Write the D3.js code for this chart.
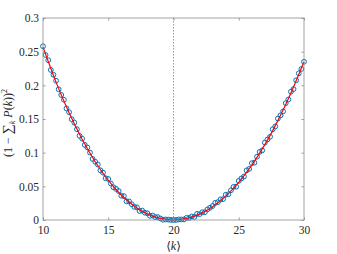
<!DOCTYPE html>
<html>
<head>
<meta charset="utf-8">
<script src="https://cdn.jsdelivr.net/npm/d3@7"></script>
<style>
  html, body { margin: 0; padding: 0; background: #fff; }
  svg { display: block; }
  text { font-family: "Liberation Serif", "DejaVu Serif", serif; fill: #262626; }
</style>
</head>
<body>
<script>
// ---- data ----
const kValues = [10,10.2,10.4,10.6,10.8,11,11.2,11.4,11.6,11.8,12,12.2,12.4,12.6,12.8,13,13.2,13.4,13.6,13.8,
  14,14.2,14.4,14.6,14.8,15,15.2,15.4,15.6,15.8,16,16.2,16.4,16.6,16.8,17,17.2,17.4,17.6,17.8,
  18,18.2,18.4,18.6,18.8,19,19.2,19.4,19.6,19.8,20,20.2,20.4,20.6,20.8,21,21.2,21.4,21.6,21.8,
  22,22.2,22.4,22.6,22.8,23,23.2,23.4,23.6,23.8,24,24.2,24.4,24.6,24.8,25,25.2,25.4,25.6,25.8,
  26,26.2,26.4,26.6,26.8,27,27.2,27.4,27.6,27.8,28,28.2,28.4,28.6,28.8,29,29.2,29.4,29.6,29.8,30];
const simValues = [0.2580,0.2450,0.2373,0.2229,0.2157,0.2068,0.1941,0.1857,0.1786,0.1657,
  0.1601,0.1497,0.1446,0.1348,0.1251,0.1208,0.1116,0.1077,0.1001,0.0907,
  0.0865,0.0825,0.0738,0.0703,0.0620,0.0610,0.0542,0.0486,0.0462,0.0430,
  0.0361,0.0354,0.0278,0.0275,0.0234,0.0195,0.0188,0.0133,0.0140,0.0109,
  0.0099,0.0062,0.0067,0.0043,0.0042,0.0022,0.0004,0.0008,0.0006,0.0001,
  0.0000,0.0001,0.0008,0.0008,0.0009,0.0032,0.0031,0.0052,0.0045,0.0090,
  0.0087,0.0115,0.0116,0.0158,0.0182,0.0208,0.0255,0.0265,0.0306,0.0310,
  0.0375,0.0382,0.0441,0.0492,0.0495,0.0580,0.0617,0.0646,0.0737,0.0759,
  0.0844,0.0851,0.0940,0.1011,0.1034,0.1149,0.1196,0.1236,0.1347,0.1390,
  0.1506,0.1554,0.1613,0.1735,0.1789,0.1906,0.1944,0.2075,0.2178,0.2243,0.2350];
const theoryK = [10,11,12,13,14,15,16,17,18,19,20,21,22,23,24,25,26,27,28,29,30];
const theoryValues = [0.2570,0.2048,0.1591,0.1198,0.0865,0.0590,0.0371,0.0205,0.0089,0.0022,0.0000,
  0.0022,0.0087,0.0198,0.0355,0.0560,0.0814,0.1119,0.1476,0.1886,0.2350];
const xTicks = [10,15,20,25,30];
const yTicks = [0,0.05,0.1,0.15,0.2,0.25,0.3];
const yTickLabels = ["0","0.05","0.1","0.15","0.2","0.25","0.3"];
const markerK = 20;

// ---- layout ----
const W = 337, H = 254;
const L = 43, R = 304, T = 18, B = 220;
const axisColor = "#8c8c8c";

const svg = d3.select("body").append("svg").attr("width", W).attr("height", H);
const x = d3.scaleLinear().domain([10, 30]).range([L, R]);
const y = d3.scaleLinear().domain([0, 0.3]).range([B, T]);

// dashed vertical line
svg.append("line")
  .attr("x1", x(markerK)).attr("x2", x(markerK))
  .attr("y1", T).attr("y2", B)
  .attr("stroke", "#555").attr("stroke-width", 0.6)
  .attr("stroke-dasharray", "1.5,1.5");

// circles
const pts = kValues.map((k, i) => [k, simValues[i]]);
svg.append("g").selectAll("circle").data(pts).join("circle")
  .attr("cx", d => x(d[0])).attr("cy", d => y(d[1]))
  .attr("r", 2.4)
  .attr("fill", "none").attr("stroke", "#0072BD").attr("stroke-width", 1);

// theory line
const line = d3.line().x(d => x(d[0])).y(d => y(d[1])).curve(d3.curveNatural);
svg.append("path")
  .datum(theoryK.map((k, i) => [k, theoryValues[i]]))
  .attr("d", line)
  .attr("fill", "none").attr("stroke", "#ff0000").attr("stroke-width", 1.2);

// box
svg.append("rect").attr("x", L).attr("y", T).attr("width", R - L).attr("height", B - T)
  .attr("fill", "none").attr("stroke", axisColor).attr("stroke-width", 0.8);

const tl = 2.6;
// axes with inward ticks
const xAxisB = d3.axisBottom(x).tickValues(xTicks).tickSizeInner(-tl).tickSizeOuter(0).tickPadding(6).tickFormat(d3.format("d"));
const gxb = svg.append("g").attr("transform", `translate(0,${B})`).call(xAxisB);
const xAxisT = d3.axisTop(x).tickValues(xTicks).tickSizeInner(-tl).tickSizeOuter(0).tickFormat("");
const gxt = svg.append("g").attr("transform", `translate(0,${T})`).call(xAxisT);
const yAxisL = d3.axisLeft(y).tickValues(yTicks).tickSizeInner(-tl).tickSizeOuter(0).tickPadding(4)
  .tickFormat((d, i) => yTickLabels[i]);
const gyl = svg.append("g").attr("transform", `translate(${L},0)`).call(yAxisL);
const yAxisR = d3.axisRight(y).tickValues(yTicks).tickSizeInner(-tl).tickSizeOuter(0).tickFormat("");
const gyr = svg.append("g").attr("transform", `translate(${R},0)`).call(yAxisR);

[gxb, gxt, gyl, gyr].forEach(g => {
  g.select(".domain").remove();
  g.selectAll(".tick line").attr("stroke", axisColor).attr("stroke-width", 0.8);
  g.selectAll(".tick text").attr("font-family", "'Liberation Serif', 'DejaVu Serif', serif")
    .attr("font-size", 11.5).attr("fill", "#262626");
});

// x label
const xl = svg.append("text").attr("x", x(20)).attr("y", 250)
  .attr("text-anchor", "middle").attr("font-size", 12);
xl.append("tspan").text("\u27E8");
xl.append("tspan").attr("font-style", "italic").text("k");
xl.append("tspan").text("\u27E9");

// y label
const yl = svg.append("text")
  .attr("transform", `translate(12,${(T + B) / 2 + 4}) rotate(-90)`)
  .attr("text-anchor", "middle").attr("font-size", 12);
yl.append("tspan").text("(1 \u2212 ");
yl.append("tspan").attr("font-size", 14).text("\u2211");
yl.append("tspan").attr("font-style", "italic").attr("font-size", 8).attr("dy", 3).text("k");
yl.append("tspan").attr("dy", -3).text(" ");
yl.append("tspan").attr("font-style", "italic").text("P");
yl.append("tspan").text("(");
yl.append("tspan").attr("font-style", "italic").text("k");
yl.append("tspan").text("))");
yl.append("tspan").attr("font-size", 8).attr("dy", -5).text("2");
</script>
</body>
</html>
